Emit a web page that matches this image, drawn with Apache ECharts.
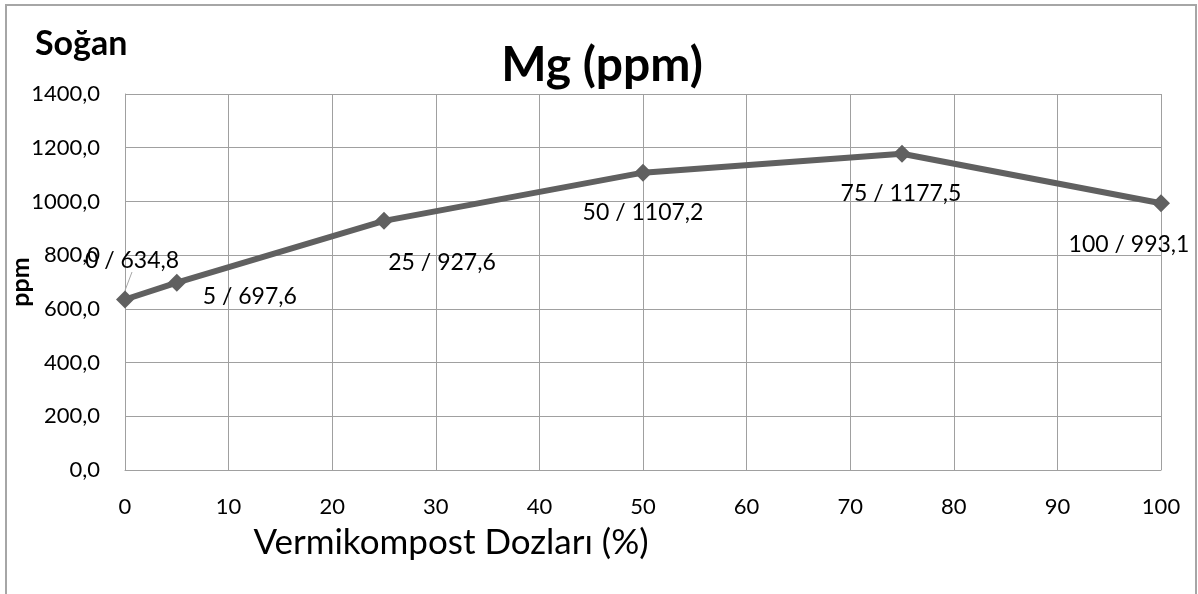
<!DOCTYPE html>
<html>
<head>
<meta charset="utf-8">
<script src="https://cdn.jsdelivr.net/npm/echarts@6/dist/echarts.min.js"></script>
<style>
  html, body { margin: 0; padding: 0; background: #fff; }
  #main { width: 1198px; height: 594px; }
</style>
</head>
<body>
<div id="main"></div>
<script>
// doz (%) ve Mg (ppm) degerleri
var dozlar = [0, 5, 25, 50, 75, 100];
var mgDegerleri = [634.8, 697.6, 927.6, 1107.2, 1177.5, 993.1];
var yTickler = [0, 200, 400, 600, 800, 1000, 1200, 1400];

// etiketlerin noktaya gore kaymasi (px)
var etiketKayma = [[7, -39], [73, 14], [58, 42], [0, 40], [-1, 40], [-32, 41]];

function virgul(v, d) {
    return v.toFixed(d).replace('.', ',');
}

var chart = echarts.init(document.getElementById('main'));
var font = 'Lato, "Open Sans", sans-serif';

var seriesData = dozlar.map(function (x, i) {
    var item = { value: [x, mgDegerleri[i]] };
    if (i === 0) {
        item.labelLine = { show: true, lineStyle: { color: '#a6a6a6', width: 1 } };
    }
    return item;
});

var option = {
    animation: false,
    textStyle: { fontFamily: font },
    graphic: [
        {
            type: 'rect',
            shape: { x: 6, y: 5, width: 1190, height: 600 },
            style: { fill: 'none', stroke: '#a6a6a6', lineWidth: 2 },
            silent: true
        },
        {
            type: 'text',
            left: 35, top: 27,
            style: { text: 'Soğan', font: 'bold 34px ' + font, fill: '#000' }
        }
    ],
    title: {
        text: 'Mg (ppm)',
        left: 597, top: 37,
        textAlign: 'center',
        textStyle: { fontSize: 48, fontWeight: 'bold', color: '#000', fontFamily: font }
    },
    grid: { left: 125, right: 37, top: 94, bottom: 124, containLabel: false, outerBoundsMode: 'none' },
    xAxis: {
        type: 'value',
        min: 0, max: 100, interval: 10,
        name: 'Vermikompost Dozları (%)',
        nameLocation: 'middle',
        nameGap: 55,
        nameMoveOverlap: false,
        nameTextStyle: { fontSize: 35, color: '#000', padding: [0, 384, 0, 0] },
        axisLine: { show: true, lineStyle: { color: '#a0a0a0', width: 1 } },
        axisTick: { show: false },
        axisLabel: { color: '#000', fontSize: 22, fontFamily: font, margin: 26 },
        splitLine: { show: true, lineStyle: { color: '#a0a0a0', width: 1 } }
    },
    yAxis: {
        type: 'value',
        min: 0, max: 1400, interval: 200,
        name: 'ppm',
        nameLocation: 'middle',
        nameGap: 92,
        nameMoveOverlap: false,
        nameTextStyle: { fontSize: 25, fontWeight: 'bold', color: '#000' },
        axisLine: { show: true, lineStyle: { color: '#a0a0a0', width: 1 } },
        axisTick: { show: false },
        axisLabel: {
            color: '#000', fontSize: 22, fontFamily: font, margin: 25,
            formatter: function (v) { return yTickler.indexOf(v) >= 0 ? virgul(v, 1) : ''; }
        },
        splitLine: { show: true, lineStyle: { color: '#a0a0a0', width: 1 } }
    },
    series: [{
        type: 'line',
        data: seriesData,
        symbol: 'diamond',
        symbolSize: 18,
        lineStyle: { color: '#606060', width: 6 },
        itemStyle: { color: '#606060' },
        label: {
            show: true,
            position: 'inside',
            color: '#000',
            fontSize: 23,
            formatter: function (p) { return p.value[0] + ' / ' + virgul(p.value[1], 1); }
        },
        labelLayout: function (p) {
            var k = etiketKayma[p.dataIndex];
            return { dx: k[0], dy: k[1] };
        }
    }]
};

chart.setOption(option);
</script>
</body>
</html>
